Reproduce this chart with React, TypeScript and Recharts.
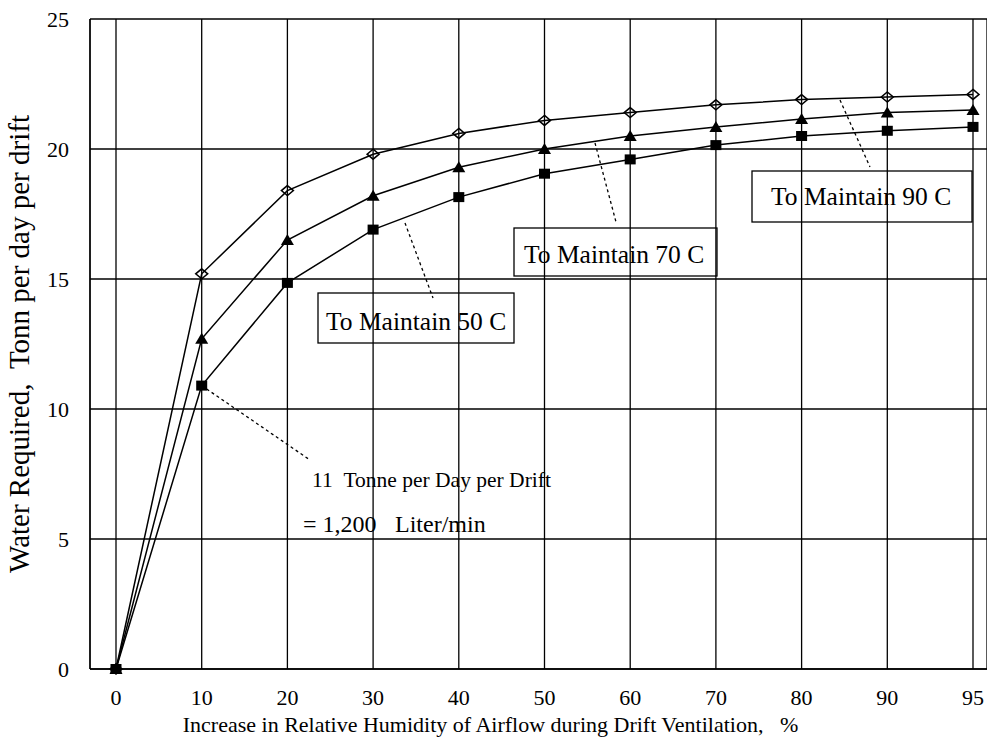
import { LineChart, Line, XAxis, YAxis, CartesianGrid } from 'recharts';

// relative humidity increase, % (categorical, evenly spaced in the original)
const humidity = ['0', '10', '20', '30', '40', '50', '60', '70', '80', '90', '95'];

// water required, tonne per day per drift
const maintain90 = [0, 15.2, 18.4, 19.8, 20.6, 21.1, 21.4, 21.7, 21.9, 22.0, 22.1];
const maintain70 = [0, 12.7, 16.5, 18.2, 19.3, 20.0, 20.5, 20.85, 21.15, 21.4, 21.5];
const maintain50 = [0, 10.9, 14.85, 16.9, 18.15, 19.05, 19.6, 20.15, 20.5, 20.7, 20.85];

const yTicks = [0, 5, 10, 15, 20, 25];

const data = humidity.map((x, i) => ({
  x,
  c90: maintain90[i],
  c70: maintain70[i],
  c50: maintain50[i],
}));

const W = 987;
const H = 744;
const FONT = '"Liberation Serif", "Times New Roman", serif';
const NB = '\u00A0';

// plot box, used only to place the callouts
const PLOT_LEFT = 90;
const PLOT_TOP = 19;
const PLOT_W = 897;
const PLOT_H = 650;
const PAD_L = 26;
const PAD_R = 14;
const px = (i: number) => PLOT_LEFT + PAD_L + (i * (PLOT_W - PAD_L - PAD_R)) / (humidity.length - 1);
const py = (v: number) => PLOT_TOP + PLOT_H * (1 - v / 25);

const Diamond = (props: any) => {
  const { cx, cy, index } = props;
  if (cx == null || cy == null) return <g key={`d-${index}`} />;
  return (
    <polygon
      key={`d-${index}`}
      points={`${cx},${cy - 5} ${cx + 6},${cy} ${cx},${cy + 5} ${cx - 6},${cy}`}
      fill="none"
      stroke="#000"
      strokeWidth={1.5}
    />
  );
};

const Triangle = (props: any) => {
  const { cx, cy, index } = props;
  if (cx == null || cy == null) return <g key={`t-${index}`} />;
  return (
    <polygon
      key={`t-${index}`}
      points={`${cx},${cy - 6} ${cx + 6.5},${cy + 5} ${cx - 6.5},${cy + 5}`}
      fill="#000"
    />
  );
};

const Square = (props: any) => {
  const { cx, cy, index } = props;
  if (cx == null || cy == null) return <g key={`s-${index}`} />;
  return <rect key={`s-${index}`} x={cx - 5.5} y={cy - 5} width={11} height={10} fill="#000" />;
};

function Callouts() {
  const dash = { stroke: '#000', strokeWidth: 1.3, strokeDasharray: '3 3' };
  const box = { fill: 'none', stroke: '#000', strokeWidth: 1.3 };
  const txt = { fontFamily: FONT, fontSize: 25.5, fill: '#000' };
  return (
    <svg
      width={W}
      height={H}
      style={{ position: 'absolute', left: 0, top: 0, pointerEvents: 'none' }}
    >
      {/* 50 C */}
      <line x1={405} y1={223} x2={433} y2={298} {...dash} />
      <rect x={318} y={293} width={196} height={50} {...box} />
      <text x={326} y={330} {...txt}>To Maintain 50 C</text>

      {/* 70 C */}
      <line x1={595} y1={143} x2={616} y2={222} {...dash} />
      <rect x={514} y={228} width={203} height={48} {...box} />
      <text x={524} y={263} {...txt}>To Maintain 70 C</text>

      {/* 90 C */}
      <line x1={840} y1={100} x2={870} y2={167} {...dash} />
      <rect x={752} y={171} width={220} height={51} {...box} />
      <text x={771} y={205} {...txt}>To Maintain 90 C</text>

      {/* 11 tonne note, pointing at the 50 C value at 10 % */}
      <line x1={px(1)} y1={py(maintain50[1])} x2={310} y2={460} {...dash} />
      <text x={312} y={487} fontFamily={FONT} fontSize={21.5} fill="#000">
        {`11${NB}${NB}Tonne per Day per Drift`}
      </text>
      <text x={303} y={532} fontFamily={FONT} fontSize={24} fill="#000">
        = 1,200
      </text>
      <text x={395} y={532} fontFamily={FONT} fontSize={24} fill="#000">
        Liter/min
      </text>
    </svg>
  );
}

export default function App() {
  const tick = { fontFamily: FONT, fontSize: 22, fill: '#000' };
  return (
    <div style={{ position: 'absolute', left: 0, top: 0, width: W, height: H, background: '#fff' }}>
      <LineChart
        width={W}
        height={H}
        data={data}
        margin={{ top: PLOT_TOP, right: 0, bottom: 5, left: 0 }}
      >
        <CartesianGrid stroke="#000" strokeWidth={1.3} />
        <XAxis
          dataKey="x"
          interval={0}
          padding={{ left: PAD_L, right: PAD_R }}
          height={70}
          tickSize={0}
          tickLine={false}
          tickMargin={20}
          tick={tick}
          axisLine={{ stroke: '#000', strokeWidth: 1.3 }}
          label={{
            value: `Increase in Relative Humidity of Airflow during Drift Ventilation,${NB}${NB}${NB}%`,
            position: 'insideBottom',
            offset: 7,
            dx: -48,
            style: { fontFamily: FONT, fontSize: 22, fill: '#000' },
          }}
        />
        <YAxis
          type="number"
          domain={[0, 25]}
          ticks={yTicks}
          width={PLOT_LEFT}
          tickSize={0}
          tickLine={false}
          tickMargin={21}
          tick={tick}
          axisLine={{ stroke: '#000', strokeWidth: 1.3 }}
          label={{
            value: `Water Required,${NB}${NB}Tonn per day per drift`,
            angle: -90,
            position: 'insideLeft',
            offset: 19,
            style: { fontFamily: FONT, fontSize: 29, fill: '#000', textAnchor: 'middle' },
          }}
        />
        <Line
          type="linear"
          dataKey="c50"
          stroke="#000"
          strokeWidth={1.5}
          dot={Square}
          activeDot={false}
          isAnimationActive={false}
        />
        <Line
          type="linear"
          dataKey="c70"
          stroke="#000"
          strokeWidth={1.5}
          dot={Triangle}
          activeDot={false}
          isAnimationActive={false}
        />
        <Line
          type="linear"
          dataKey="c90"
          stroke="#000"
          strokeWidth={1.5}
          dot={Diamond}
          activeDot={false}
          isAnimationActive={false}
        />
      </LineChart>
      <Callouts />
    </div>
  );
}
